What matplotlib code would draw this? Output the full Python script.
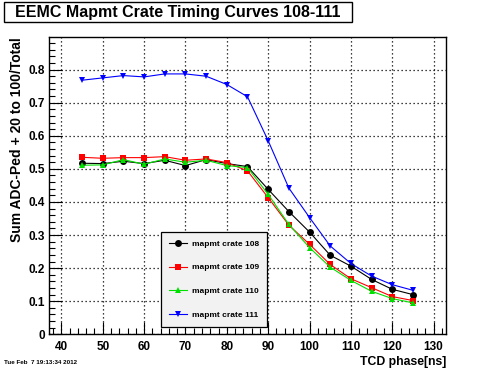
import matplotlib
matplotlib.use("Agg")
import matplotlib.pyplot as plt
from matplotlib.ticker import MultipleLocator, FuncFormatter
from matplotlib.patches import Rectangle

plt.rcParams['font.family'] = ['Liberation Sans', 'DejaVu Sans']
plt.rcParams['font.weight'] = 'bold'

phase = [45, 50, 55, 60, 65, 70, 75, 80, 85, 90, 95, 100, 105, 110, 115, 120, 125]
crate108 = [0.517, 0.516, 0.523, 0.516, 0.526, 0.510, 0.528, 0.516, 0.507, 0.438, 0.371, 0.309, 0.239, 0.206, 0.166, 0.136, 0.120]
crate109 = [0.535, 0.532, 0.534, 0.534, 0.537, 0.526, 0.530, 0.519, 0.494, 0.413, 0.330, 0.272, 0.211, 0.168, 0.141, 0.114, 0.102]
crate110 = [0.511, 0.512, 0.528, 0.514, 0.530, 0.520, 0.526, 0.510, 0.504, 0.423, 0.332, 0.262, 0.203, 0.163, 0.130, 0.108, 0.095]
crate111 = [0.768, 0.775, 0.782, 0.778, 0.787, 0.787, 0.780, 0.755, 0.718, 0.585, 0.442, 0.353, 0.267, 0.214, 0.176, 0.150, 0.133]
labels = ['mapmt crate 108', 'mapmt crate 109', 'mapmt crate 110', 'mapmt crate 111']

W, H = 496, 372
fig = plt.figure(figsize=(W / 100, H / 100), dpi=100)
fig.patch.set_facecolor('white')
ax = fig.add_axes([49 / W, 1 - 334.3 / H, (446 - 49) / W, (334.3 - 36.7) / H])

series = [
    (crate108, 'black', 'o', 5.0),
    (crate109, 'red', 's', 4.5),
    (crate110, '#00e000', '^', 4.0),
    (crate111, 'blue', 'v', 4.5),
]
for (vals, col, mk, ms), lab in zip(series, labels):
    ax.plot(phase, vals, color=col, marker=mk, markersize=ms, lw=0.8,
            markeredgewidth=0, label=lab)

ax.set_xlim(37, 133)
ax.set_ylim(0, 0.8995)
ax.xaxis.set_major_locator(MultipleLocator(10))
ax.xaxis.set_minor_locator(MultipleLocator(2))
ax.yaxis.set_major_locator(MultipleLocator(0.1))
ax.yaxis.set_minor_locator(MultipleLocator(0.02))
ax.yaxis.set_major_formatter(FuncFormatter(lambda v, p: '0' if abs(v) < 1e-9 else ('%.1f' % v)))
ax.tick_params(which='both', direction='in', top=False, right=False, labelsize=8.5, width=0.8)
ax.tick_params(which='major', length=9)
ax.tick_params(which='minor', length=4.5)
ax.tick_params(axis='x', pad=5)
ax.tick_params(axis='y', pad=3)
for lab in ax.get_xticklabels() + ax.get_yticklabels():
    lab.set_fontweight('bold')
ax.grid(True, which='major', color='black', linestyle=(0, (1, 2.2)), lw=0.9)
for s in ax.spines.values():
    s.set_linewidth(1.0)

leg = ax.legend(loc='lower left', bbox_to_anchor=(161 / W, 1 - 327 / H),
                bbox_transform=fig.transFigure, frameon=True, fancybox=False,
                facecolor='#f2f2f2', edgecolor='black', framealpha=1,
                prop={'size': 6.0, 'weight': 'bold'}, handlelength=2.2,
                handletextpad=0.6, labelspacing=1.92, borderpad=0.95, borderaxespad=0)
leg.get_frame().set_linewidth(0.9)

# title box
fig.patches.append(Rectangle((4 / W, 1 - 22 / H), (352 - 4) / W, 20 / H,
                             transform=fig.transFigure, facecolor='white',
                             edgecolor='black', lw=1.0))
fig.text(178 / W, 1 - 12.5 / H, 'EEMC Mapmt Crate Timing Curves 108-111',
         ha='center', va='center', fontsize=11.5, fontweight='bold')

fig.text(17 / W, 1 - 37 / H, 'Sum ADC-Ped + 20 to 100/Total', rotation=90,
         ha='center', va='top', fontsize=10, fontweight='bold')
fig.text(446 / W, 1 - 362 / H, 'TCD phase[ns]', ha='right', va='center',
         fontsize=8.8, fontweight='bold')
fig.text(4 / W, 1 - 363 / H, 'Tue Feb  7 19:13:34 2012', ha='left', va='center',
         fontsize=4.5, fontweight='bold')

fig.savefig('out.png', dpi=100)
